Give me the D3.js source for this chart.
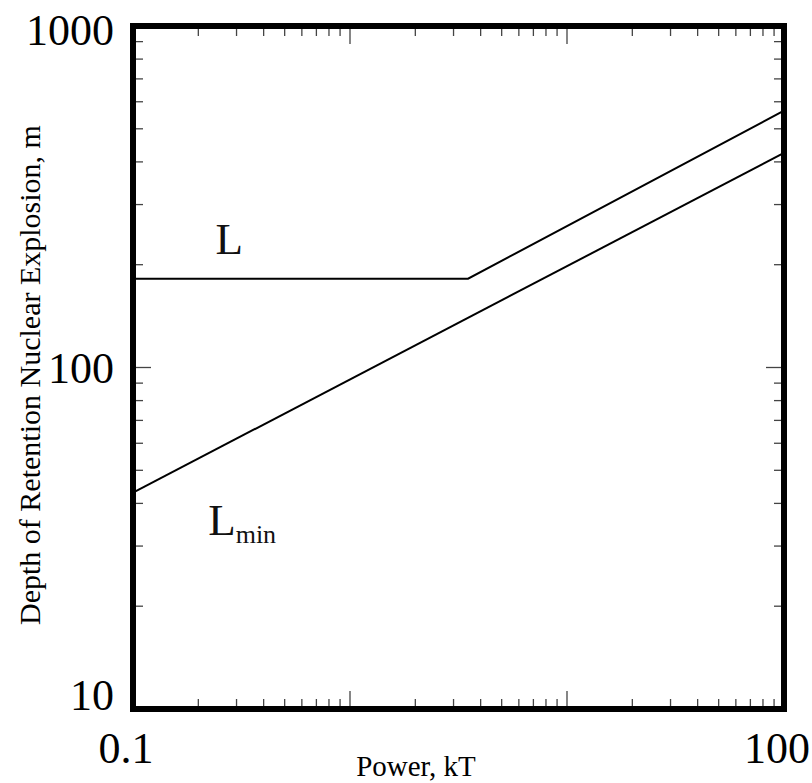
<!DOCTYPE html>
<html><head><meta charset="utf-8">
<script src="https://cdn.jsdelivr.net/npm/d3@7"></script>
<style>body{margin:0;background:#fff}svg{display:block}</style></head>
<body>
<script>
// Data
const lPower = [0.1, 3.5, 100];
const lDepth = [182, 182, 565];
const lminPower = [0.1, 100];
const lminDepth = [43, 425];
const xTickLabels = [0.1, 100];
const yTickLabels = [10, 100, 1000];
const seriesLabels = [
  {main: "L", sub: "", power: 0.24, depth: 215},
  {main: "L", sub: "min", power: 0.222, depth: 32.4}
];
const xTitle = "Power, kT";
const yTitle = "Depth of Retention Nuclear Explosion, m";

const W = 812, H = 783;
const m = {left: 133, right: 812 - 784, top: 26, bottom: 783 - 709};
const svg = d3.select("body").append("svg").attr("width", W).attr("height", H);
const font = "'Liberation Serif','Times New Roman',serif";

const x = d3.scaleLog().domain([0.1, 100]).range([m.left, W - m.right]);
const y = d3.scaleLog().domain([10, 1000]).range([H - m.bottom, m.top]);
const [x0, x1] = x.range();
const [y0, y1] = y.range(); // y0 bottom, y1 top

const isMajor = v => Math.abs(Math.log10(v) - Math.round(Math.log10(v))) < 1e-9;
const minorLen = 7, majorLen = 15, inset = 3;

const tg = svg.append("g").attr("stroke", "#444").attr("stroke-width", 1.3);
x.ticks().forEach(v => {
  if (v <= 0.1 || v >= 100) return;
  const len = isMajor(v) ? majorLen : minorLen;
  tg.append("line").attr("x1", x(v)).attr("x2", x(v)).attr("y1", y0 - inset).attr("y2", y0 - inset - len);
  tg.append("line").attr("x1", x(v)).attr("x2", x(v)).attr("y1", y1 + inset).attr("y2", y1 + inset + len);
});
y.ticks().forEach(v => {
  if (v <= 10 || v >= 1000) return;
  const len = isMajor(v) ? majorLen : minorLen;
  tg.append("line").attr("y1", y(v)).attr("y2", y(v)).attr("x1", x0 + inset).attr("x2", x0 + inset + len);
  tg.append("line").attr("y1", y(v)).attr("y2", y(v)).attr("x1", x1 - inset).attr("x2", x1 - inset - len);
});

// Lines
const line = d3.line().x(d => x(d[0])).y(d => y(d[1]));
svg.append("path").datum(d3.zip(lPower, lDepth)).attr("d", line)
  .attr("fill", "none").attr("stroke", "#000").attr("stroke-width", 2);
svg.append("path").datum(d3.zip(lminPower, lminDepth)).attr("d", line)
  .attr("fill", "none").attr("stroke", "#000").attr("stroke-width", 2);

// Frame
svg.append("rect").attr("x", x0).attr("y", y1).attr("width", x1 - x0).attr("height", y0 - y1)
  .attr("fill", "none").attr("stroke", "#000").attr("stroke-width", 6);

// Tick labels
svg.selectAll(".xl").data(xTickLabels).join("text")
  .attr("x", d => x(d) - 7).attr("y", y0 + 54)
  .attr("text-anchor", "middle").attr("font-family", font).attr("font-size", 44)
  .text(d => String(d));
svg.selectAll(".yl").data(yTickLabels).join("text")
  .attr("x", x0 - 19)
  .attr("y", d => Math.max(y1 + 19, Math.min(y0 + 1, y(d) + 15)))
  .attr("text-anchor", "end").attr("font-family", font).attr("font-size", 44)
  .text(d => String(d));

// Series labels
seriesLabels.forEach(s => {
  const t = svg.append("text").attr("x", x(s.power)).attr("y", y(s.depth))
    .attr("font-family", font).attr("font-size", 45).attr("fill", "#111");
  t.append("tspan").text(s.main);
  if (s.sub) t.append("tspan").attr("font-size", 26).attr("dy", 8).text(s.sub);
});

// Axis titles
svg.append("text").attr("x", 416).attr("y", 776).attr("text-anchor", "middle")
  .attr("font-family", font).attr("font-size", 29).text(xTitle);
svg.append("text").attr("transform", "translate(40,375) rotate(-90)").attr("text-anchor", "middle")
  .attr("font-family", font).attr("font-size", 30).text(yTitle);
</script>
</body></html>
